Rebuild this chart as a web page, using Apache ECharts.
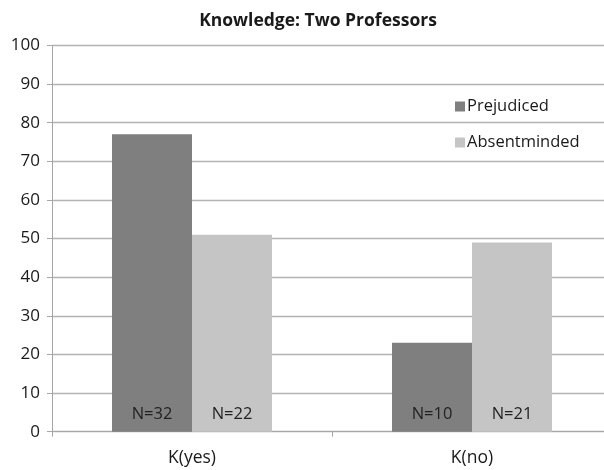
<!DOCTYPE html>
<html>
<head>
<meta charset="utf-8">
<script src="https://cdn.jsdelivr.net/npm/echarts@6/dist/echarts.min.js"></script>
<style>
  html, body { margin: 0; padding: 0; background: #fff; }
  #chart { width: 604px; height: 470px; }
</style>
</head>
<body>
<div id="chart"></div>
<script>
// Categories and series values
const categories = ['K(yes)', 'K(no)'];
const prejudiced = [77, 23];
const absentminded = [51, 49];
// Sample sizes shown at the foot of each bar
const prejudicedN = [32, 10];
const absentmindedN = [22, 21];
const yTicks = [0, 10, 20, 30, 40, 50, 60, 70, 80, 90, 100];

const FONT = '"Open Sans", "Noto Sans", sans-serif';
const chart = echarts.init(document.getElementById('chart'), null, { renderer: 'canvas' });

function nLabel(counts) {
  return {
    show: true,
    position: 'insideBottom',
    distance: 9,
    fontFamily: FONT,
    fontSize: 16.5,
    color: '#222',
    formatter: p => 'N=' + counts[p.dataIndex]
  };
}

chart.setOption({
  animation: false,
  backgroundColor: '#fff',
  title: {
    text: 'Knowledge: Two Professors',
    left: 313,
    textAlign: 'center',
    top: 7,
    textStyle: { fontFamily: FONT, fontSize: 17.5, fontWeight: 'bold', color: '#1a1a1a' }
  },
  legend: {
    orient: 'vertical',
    left: 450,
    top: 93,
    itemWidth: 10,
    itemHeight: 10,
    itemGap: 19,
    icon: 'rect',
    textStyle: { fontFamily: FONT, fontSize: 16.5, lineHeight: 16, color: '#1a1a1a', padding: [0, 0, 0, -3] },
    data: ['Prejudiced', 'Absentminded']
  },
  // plot area runs past the right edge of the canvas
  grid: { left: 52, width: 560, top: 45.5, bottom: 38.3, outerBoundsMode: 'none', containLabel: false },
  xAxis: {
    type: 'category',
    data: categories,
    axisLine: { lineStyle: { color: '#a6a6a6', width: 1 } },
    axisTick: { show: true, length: 5, alignWithLabel: false, lineStyle: { color: '#a6a6a6' } },
    axisLabel: { fontFamily: FONT, fontSize: 17.5, color: '#1a1a1a', margin: 17 }
  },
  yAxis: {
    type: 'value',
    min: yTicks[0],
    max: yTicks[yTicks.length - 1],
    interval: yTicks[1] - yTicks[0],
    axisLine: { show: true, lineStyle: { color: '#a6a6a6', width: 1 } },
    axisTick: { show: true, length: 5, lineStyle: { color: '#a6a6a6' } },
    axisLabel: { fontFamily: FONT, fontSize: 17, color: '#1a1a1a', margin: 12 },
    splitLine: { lineStyle: { color: '#b3b3b3', width: 1.3 } }
  },
  series: [
    {
      name: 'Prejudiced',
      type: 'bar',
      data: prejudiced,
      barGap: '0%',
      barCategoryGap: '42.86%',
      itemStyle: { color: '#7f7f7f' },
      label: nLabel(prejudicedN)
    },
    {
      name: 'Absentminded',
      type: 'bar',
      data: absentminded,
      barGap: '0%',
      barCategoryGap: '42.86%',
      itemStyle: { color: '#c4c5c4' },
      label: nLabel(absentmindedN)
    }
  ]
});
</script>
</body>
</html>
